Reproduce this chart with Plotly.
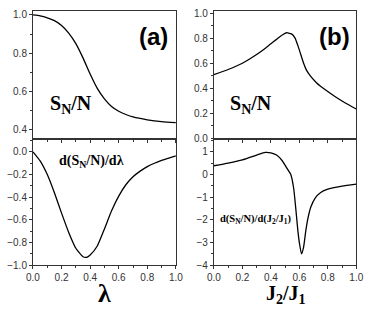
import plotly.graph_objects as go

lam = [0.0, 0.05, 0.1, 0.15, 0.2, 0.25, 0.3, 0.35, 0.4, 0.45, 0.5, 0.55, 0.6, 0.65, 0.7, 0.8, 0.9, 1.0]
s_a = [1.0, 0.995, 0.985, 0.97, 0.945, 0.905, 0.85, 0.775, 0.69, 0.615, 0.56, 0.52, 0.495, 0.478, 0.465, 0.45, 0.44, 0.435]

lam_d = [0.0, 0.05, 0.1, 0.15, 0.2, 0.25, 0.3, 0.35, 0.375, 0.4, 0.45, 0.5, 0.55, 0.6, 0.65, 0.7, 0.75, 0.8, 0.85, 0.9, 0.95, 1.0]
d_a = [0.0, -0.08, -0.2, -0.36, -0.54, -0.71, -0.85, -0.925, -0.93, -0.91, -0.83, -0.68, -0.52, -0.39, -0.29, -0.22, -0.17, -0.13, -0.1, -0.075, -0.055, -0.035]

j = [0.0, 0.1, 0.2, 0.3, 0.35, 0.4, 0.44, 0.48, 0.51, 0.55, 0.57, 0.59, 0.61, 0.63, 0.65, 0.68, 0.72, 0.78, 0.85, 0.92, 1.0]
s_b = [0.51, 0.55, 0.6, 0.67, 0.71, 0.755, 0.79, 0.825, 0.843, 0.83, 0.8, 0.74, 0.67, 0.6, 0.545, 0.495, 0.445, 0.39, 0.335, 0.285, 0.235]

j_d = [0.0, 0.1, 0.2, 0.3, 0.36, 0.4, 0.44, 0.48, 0.51, 0.54, 0.56, 0.575, 0.59, 0.6, 0.615, 0.63, 0.645, 0.66, 0.68, 0.71, 0.75, 0.8, 0.9, 1.0]
d_b = [0.38, 0.5, 0.64, 0.85, 0.97, 0.95, 0.85, 0.6, 0.3, 0.0, -0.6, -1.5, -2.5, -3.0, -3.5, -3.2, -2.5, -1.95, -1.45, -1.05, -0.8, -0.65, -0.52, -0.43]

b_top_ticks = [0.2, 0.4, 0.6, 0.8, 1.0]
b_top_labels = ["0.2", "0.4", "0.6", "0.8", "1.0"]
b_top_zero_label = "0.0"

fig = go.Figure()
line = dict(color="black", width=1.3, shape="spline", smoothing=0.5)
fig.add_trace(go.Scatter(x=lam, y=s_a, mode="lines", line=line, xaxis="x", yaxis="y"))
fig.add_trace(go.Scatter(x=lam_d, y=d_a, mode="lines", line=line, xaxis="x2", yaxis="y2"))
fig.add_trace(go.Scatter(x=j, y=s_b, mode="lines", line=line, xaxis="x3", yaxis="y3"))
fig.add_trace(go.Scatter(x=j_d, y=d_b, mode="lines", line=line, xaxis="x4", yaxis="y4"))

W, H = 371, 314
xa = [27 / W, 175.5 / W]
xb = [215 / W, 363 / W]
ytop = [1 - 139.5 / H, 1 - 8 / H]
ybot = [1 - 270 / H, 1 - 139.5 / H]

tickfont = dict(family="Arial", size=10, color="#333")
common = dict(showline=True, linecolor="#333", linewidth=1, mirror=True, showgrid=False,
              zeroline=False, ticks="outside", ticklen=3, tickcolor="#333", tickfont=tickfont,
              ticklabeloverflow="allow")

def xax(dom, anchor, labels):
    return dict(common, domain=dom, anchor=anchor, range=[0, 1], dtick=0.2, tickformat=".1f",
                showticklabels=labels, minor=dict(dtick=0.1, ticks="outside", ticklen=2, tickcolor="#333"))

def yax(dom, anchor, rng, dtick, fmt):
    return dict(common, domain=dom, anchor=anchor, range=rng, dtick=dtick, tickformat=fmt,
                minor=dict(dtick=dtick / 2, ticks="outside", ticklen=2, tickcolor="#333"))

yb3 = yax(ytop, "x3", [0.0, 1.018], 0.2, ".1f")
yb3.pop("dtick")
yb3.update(tickmode="array", tickvals=b_top_ticks, ticktext=b_top_labels)
yb3["minor"] = dict(tickmode="linear", tick0=0, dtick=0.1, ticks="outside", ticklen=2, tickcolor="#333")

fig.update_layout(
    width=W, height=H, margin=dict(l=0, r=0, t=0, b=0), showlegend=False,
    paper_bgcolor="white", plot_bgcolor="white",
    xaxis=xax(xa, "y", False),
    yaxis=yax(ytop, "x", [0.352, 1.022], 0.2, ".1f"),
    xaxis2=xax(xa, "y2", True),
    yaxis2=yax(ybot, "x2", [-1.0, 0.118], 0.2, ".1f"),
    xaxis3=xax(xb, "y3", False),
    yaxis3=yb3,
    xaxis4=xax(xb, "y4", True),
    yaxis4=yax(ybot, "x4", [-4.0, 1.58], 1, "d"),
)

# zero label of panel (b) upper axis, placed at y=0 of that axis
fig.add_annotation(text=b_top_zero_label, x=0, y=0, xref="x3 domain", yref="y3",
                   xanchor="right", yanchor="middle", xshift=-4, showarrow=False,
                   font=tickfont)

def px(x, y):
    return x / W, 1 - y / H

ann = [
    ("(a)", 152, 35, dict(family="Arial", size=24, color="black")),
    ("(b)", 340, 35, dict(family="Arial", size=24, color="black")),
    ("S<sub>N</sub>/N", 66, 105, dict(family="Liberation Serif", size=20, color="black")),
    ("S<sub>N</sub>/N", 254, 105, dict(family="Liberation Serif", size=20, color="black")),
    ("d(S<sub>N</sub>/N)/dλ", 88, 163, dict(family="Liberation Serif", size=14, color="black")),
    ("d(S<sub>N</sub>/N)/d(J<sub>2</sub>/J<sub>1</sub>)", 259, 223, dict(family="Liberation Serif", size=10.5, color="black")),
    ("λ", 101, 299, dict(family="Liberation Serif", size=26, color="black")),
    ("J<sub>2</sub>/J<sub>1</sub>", 290, 300, dict(family="Liberation Serif", size=20, color="black")),
]
for text, x, y, font in ann:
    ax_, ay_ = px(x, y)
    fig.add_annotation(text="<b>" + text + "</b>", x=ax_, y=ay_, xref="paper", yref="paper",
                       showarrow=False, font=font, xanchor="center", yanchor="middle")

fig.write_html("out.html", config={"displayModeBar": False},
               post_script="document.body.style.margin='0';document.body.style.overflow='hidden';")
